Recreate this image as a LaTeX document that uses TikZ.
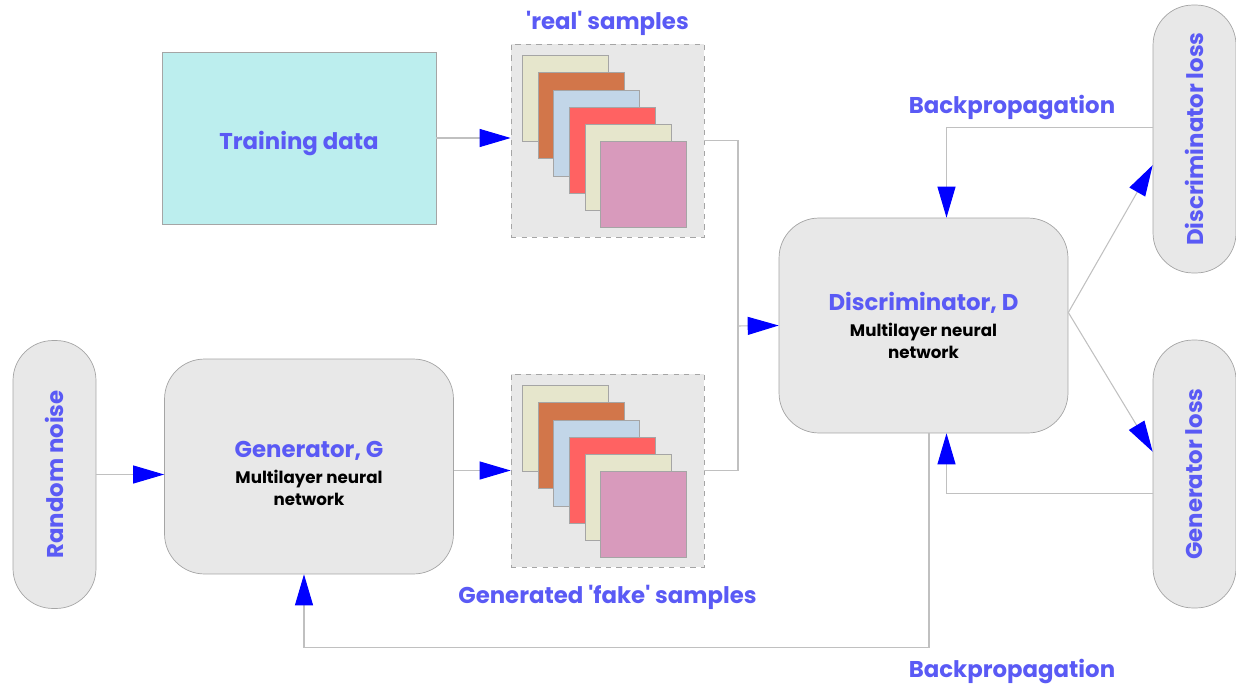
\documentclass[tikz,border=0pt]{standalone}
\usepackage{fontspec}
\setmainfont{Poppins}
\usetikzlibrary{arrows.meta, calc}

\definecolor{labelblue}{RGB}{90,90,245}
\definecolor{boxgray}{RGB}{232,232,232}
\definecolor{linegray}{RGB}{192,192,192}
\definecolor{edgegray}{RGB}{165,165,165}
\definecolor{traincyan}{RGB}{188,238,238}
\definecolor{beige}{RGB}{230,230,204}
\definecolor{rust}{RGB}{210,118,74}
\definecolor{paleblue}{RGB}{194,214,232}
\definecolor{salmon}{RGB}{255,98,98}
\definecolor{mauve}{RGB}{216,154,188}

\newcommand{\bluehead}[1]{\textcolor{labelblue}{\fontsize{13}{15}\selectfont #1}}

\tikzset{
  block/.style={draw=edgegray, fill=boxgray, rounded corners=0.8cm, minimum width=5.78cm, minimum height=4.3cm, align=center, inner sep=0pt, font=\bfseries\fontsize{9.5}{12.5}\selectfont},
  pill/.style={draw=edgegray, fill=boxgray, rounded corners=0.8cm, minimum width=1.66cm, minimum height=5.36cm, inner sep=0pt, font=\bfseries},
  stackbox/.style={draw=edgegray, dashed, fill=boxgray, minimum size=3.86cm, inner sep=0pt},
  sample/.style={draw=edgegray, line width=0.5pt},
  heading/.style={font=\bfseries\fontsize{13}{15}\selectfont, text=labelblue},
  wire/.style={draw=linegray, line width=0.6pt},
  flow/.style={wire, -{Triangle[length=0.62cm, width=0.36cm, color=blue, fill=blue]}},
}

\begin{document}
\begin{tikzpicture}[x=0.02cm, y=-0.02cm]
  \useasboundingbox (0,0) rectangle (1236,686);

  \node[draw=edgegray, fill=traincyan, minimum width=5.48cm, minimum height=3.44cm, heading, text height=0.55cm, text depth=0.1cm] (train) at (299,138) {Training data};
  \node[stackbox] (realbox) at (607.5,140.5) {};
  \node[stackbox] (fakebox) at (607.5,470.5) {};
  \foreach \s in {realbox, fakebox}
    \foreach \c [count=\i from 0] in {beige, rust, paleblue, salmon, beige, mauve}
      \draw[sample, fill=\c] ($(\s.north west)+(12+15.6*\i,12+17.2*\i)$) rectangle ++(86,86);
  \node[heading, above=0.04cm] (reallabel) at (realbox.north) {\textquotesingle real\textquotesingle\ samples};
  \node[heading, below=0.24cm] (fakelabel) at (fakebox.south) {Generated \textquotesingle fake\textquotesingle\ samples};

  \node[block] (disc) at (923.5,325.5) {\bluehead{Discriminator, D}\\[2pt] Multilayer neural\\ network};
  \node[block, label={[yshift=-0.14cm, align=center, font=\bfseries\fontsize{9.5}{12.5}\selectfont]center:\bluehead{Generator, G}\\[2pt] Multilayer neural\\ network}] (gen) at (309,466.5) {};
  \node[pill] (noise) at (54.5,474.5) {\rotatebox{90}{\bluehead{Random noise}}};
  \node[pill] (dloss) at (1194.5,139) {\rotatebox{90}{\bluehead{Discriminator loss}}};
  \node[pill] (gloss) at (1194.5,474) {\rotatebox{90}{\bluehead{Generator loss}}};

  \node[heading] (topprop) at (1012,107) {Backpropagation};
  \node[heading] (botprop) at (1012,671) {Backpropagation};

  \coordinate (join) at (738,326);
  \draw[flow] (train.east) -- (train.east -| realbox.west);
  \draw[wire] (realbox.east) -| (join) |- (fakebox.east);
  \draw[flow] (join) -- (disc.west);
  \draw[flow] (noise.east) -- (noise.east -| gen.west);
  \draw[flow] (fakebox.west -| gen.east) -- (fakebox.west);
  \draw[flow] ([yshift=0.26cm]disc.east) -- (dloss.212);
  \draw[flow] ([yshift=0.26cm]disc.east) -- (gloss.152);
  \draw[flow] (dloss.165) -| ([xshift=0.46cm]disc.north);
  \draw[flow] (gloss.205) -| ([xshift=0.46cm]disc.south);
  \draw[flow] ([xshift=0.11cm]disc.south) -- ++(0,214) -| ([xshift=-0.1cm]gen.south);
\end{tikzpicture}
\end{document}
